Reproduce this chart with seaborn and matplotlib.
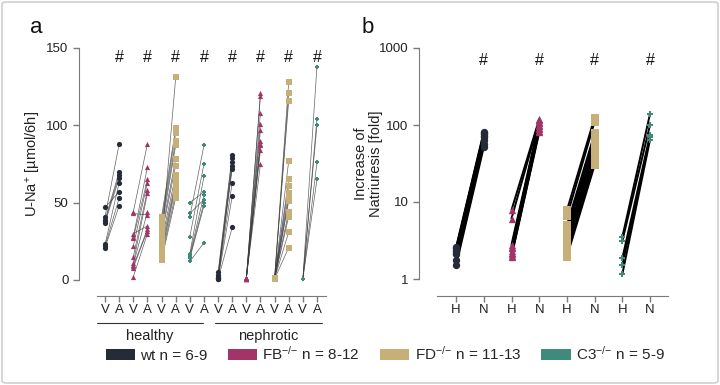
import numpy as np
import pandas as pd
import matplotlib
matplotlib.use("Agg")
import matplotlib.pyplot as plt
import seaborn as sns
from matplotlib.patches import Patch, FancyBboxPatch
import matplotlib.transforms as mtransforms

# ---------------- data ----------------
genotypes = ["wt", "FB", "FD", "C3"]
legend_labels = ["wt n = 6-9", "FB$^{{-}/{-}}$ n = 8-12", "FD$^{{-}/{-}}$ n = 11-13", "C3$^{{-}/{-}}$ n = 5-9"]
colors = ["#252b37", "#a23467", "#c6b077", "#3f8a7a"]
markers = ["o", "^", "s", "P"]

a_tick_labels = ["V", "A"] * 8
a_groups = ["healthy", "nephrotic"]
b_tick_labels = ["H", "N"] * 4

# Panel a: U-Na+ [umol/6h], vehicle (V) vs amiloride (A), paired per animal
healthy_V = {
    "wt": [47, 41, 39, 38, 37, 23, 22, 21],
    "FB": [44, 43, 30, 28, 27, 22, 15, 11, 10, 9, 8, 2],
    "FD": [41, 38, 36, 33, 31, 29, 24, 25, 22, 19, 17, 15, 13],
    "C3": [50, 43, 41, 28, 17, 16, 15, 14, 12],
}
healthy_A = {
    "wt": [57, 88, 70, 68, 66, 63, 53, 48],
    "FB": [88, 42, 35, 73, 65, 63, 58, 56, 44, 33, 32, 30],
    "FD": [98, 95, 90, 87, 78, 74, 131, 68, 64, 62, 60, 56, 53],
    "C3": [57, 52, 87, 75, 67, 55, 50, 48, 24],
}
nephrotic_V = {
    "wt": [5, 3, 2, 1.5, 1, 1, 0.5, 0.5],
    "FB": [1, 0.8, 1, 0.6, 1, 0.9, 0.7, 1, 0.8, 1],
    "FD": [1, 0.8, 1, 0.6, 1, 0.9, 0.7, 1, 0.8, 1, 0.9, 1, 0.7],
    "C3": [0.5, 0.5, 0.5, 0.5, 0.5],
}
nephrotic_A = {
    "wt": [81, 79, 76, 74, 72, 63, 54, 34],
    "FB": [121, 119, 108, 101, 97, 90, 88, 87, 84, 75],
    "FD": [128, 121, 116, 77, 65, 61, 56, 53, 51, 44, 41, 31, 21],
    "C3": [138, 104, 100, 76, 65],
}

# Panel b: increase of natriuresis [fold], healthy (H) vs nephrotic (N)
fold_H = {
    "wt": [2.6, 2.5, 2.4, 2.3, 2.2, 2.1, 1.75, 1.5],
    "FB": [7.9, 6.1, 2.8, 2.6, 2.5, 2.3, 2.2, 2.1, 2.0, 1.95],
    "FD": [7.8, 6.5, 5.0, 4.5, 4.0, 3.6, 3.3, 3.0, 2.7, 2.4, 2.1, 1.95],
    "C3": [3.5, 3.1, 1.85, 1.5, 1.15],
}
fold_N = {
    "wt": [82, 79, 76, 73, 69, 63, 56, 52],
    "FB": [119, 115, 110, 105, 100, 96, 92, 88, 84, 80],
    "FD": [125, 110, 78, 72, 66, 60, 55, 50, 45, 40, 35, 30],
    "C3": [139, 100, 74, 70, 64],
}

# ---------------- long-form tables ----------------
rows_a = []
for gi, g in enumerate(genotypes):
    for ci, (dV, dA) in enumerate([(healthy_V, healthy_A), (nephrotic_V, nephrotic_A)]):
        base = ci * 8 + gi * 2
        for k, (v, a) in enumerate(zip(dV[g], dA[g])):
            uid = f"{g}_{ci}_{k}"
            rows_a.append(dict(genotype=g, cond=ci, animal=uid, pos=base, value=v))
            rows_a.append(dict(genotype=g, cond=ci, animal=uid, pos=base + 1, value=a))
df_a = pd.DataFrame(rows_a)

rows_b = []
for gi, g in enumerate(genotypes):
    for k, (h, n) in enumerate(zip(fold_H[g], fold_N[g])):
        uid = f"{g}_{k}"
        rows_b.append(dict(genotype=g, animal=uid, pos=gi * 2, value=h))
        rows_b.append(dict(genotype=g, animal=uid, pos=gi * 2 + 1, value=n))
df_b = pd.DataFrame(rows_b)

# ---------------- figure ----------------
sns.set_style("ticks")
plt.rcParams["font.family"] = ["Liberation Sans", "DejaVu Sans"]
plt.rcParams["mathtext.fontset"] = "custom"
plt.rcParams["mathtext.rm"] = "Liberation Sans"
plt.rcParams["mathtext.it"] = "Liberation Sans"
plt.rcParams["axes.edgecolor"] = "#7a7a7a"
plt.rcParams["xtick.color"] = "#7a7a7a"
plt.rcParams["ytick.color"] = "#7a7a7a"
plt.rcParams["xtick.labelcolor"] = "#222222"
plt.rcParams["ytick.labelcolor"] = "#222222"

W, H = 720, 385
fig = plt.figure(figsize=(W / 100, H / 100), dpi=100)

def px_axes(x0, y0, x1, y1):
    return fig.add_axes([x0 / W, 1 - y1 / H, (x1 - x0) / W, (y1 - y0) / H])

ax_a = px_axes(97, 48, 326, 280)
ax_b = px_axes(437, 48, 668, 279)

palette = dict(zip(genotypes, colors))
mk = dict(zip(genotypes, markers))
size_a = {"wt": 14, "FB": 14, "FD": 16, "C3": 12}
size_b = {"wt": 28, "FB": 28, "FD": 40, "C3": 20}

# panel a
for g in genotypes:
    sub = df_a[df_a.genotype == g]
    sns.lineplot(data=sub, x="pos", y="value", units="animal", estimator=None,
                 color="#3c3c3c", lw=0.5, alpha=0.8, ax=ax_a, legend=False,
                 clip_on=False, zorder=2)
    sns.scatterplot(data=sub, x="pos", y="value", color=palette[g], marker=mk[g],
                    s=size_a[g], linewidth=0, ax=ax_a, legend=False, clip_on=False, zorder=3)

ax_a.set_xlim(-0.57, 15.64)
ax_a.set_ylim(0, 150)
ax_a.set_yticks([0, 50, 100, 150])
ax_a.set_xticks(range(16))
ax_a.set_xticklabels(a_tick_labels)
ax_a.set_xlabel("")
ax_a.set_ylabel("U-Na$^{+}$ [µmol/6h]", fontsize=10.5, color="#222222")
ax_a.yaxis.set_label_coords(-0.235, 0.5)
sns.despine(ax=ax_a, offset={"left": 13, "bottom": 11.5})
ax_a.tick_params(axis="both", labelsize=9.5, length=4, width=1)
ax_a.tick_params(axis="x", pad=2)

for i in range(4):
    ax_a.text(2 * i + 1, 144, "#", ha="center", va="center", fontsize=11.5, color="#111111")
    ax_a.text(8 + 2 * i + 1, 144, "#", ha="center", va="center", fontsize=11.5, color="#111111")

trans = mtransforms.blended_transform_factory(ax_a.transData, ax_a.transAxes)
for (x0, x1), lab in zip([(-0.57, 6.94), (7.78, 15.36)], a_groups):
    ax_a.plot([x0, x1], [-0.185, -0.185], transform=trans, color="#333333", lw=0.8, clip_on=False)
    ax_a.text((x0 + x1) / 2, -0.24, lab, transform=trans, ha="center", va="center",
              fontsize=10.5, color="#222222")

# panel b
for g in genotypes:
    sub = df_b[df_b.genotype == g]
    sns.lineplot(data=sub, x="pos", y="value", units="animal", estimator=None,
                 color="black", lw=1.4, ax=ax_b, legend=False, clip_on=False, zorder=2)
    sns.scatterplot(data=sub, x="pos", y="value", color=palette[g], marker=mk[g],
                    s=size_b[g], linewidth=0, ax=ax_b, legend=False, clip_on=False, zorder=3)

ax_b.set_yscale("log")
ax_b.set_ylim(1, 1000)
ax_b.set_yticks([1, 10, 100, 1000])
ax_b.set_yticklabels(["1", "10", "100", "1000"])
ax_b.yaxis.set_minor_locator(matplotlib.ticker.NullLocator())
ax_b.set_xlim(-0.69, 7.65)
ax_b.set_xticks(range(8))
ax_b.set_xticklabels(b_tick_labels)
ax_b.set_xlabel("")
ax_b.set_ylabel("Increase of\nNatriuresis [fold]", fontsize=10.5, color="#222222",
                linespacing=1.05)
ax_b.yaxis.set_label_coords(-0.235, 0.5)
sns.despine(ax=ax_b, offset={"left": 13, "bottom": 12})
ax_b.tick_params(axis="both", labelsize=9.5, length=4, width=1)
ax_b.tick_params(axis="x", pad=2)
for i in range(4):
    ax_b.text(2 * i + 1, 680, "#", ha="center", va="center", fontsize=11.5, color="#111111")

# panel letters
fig.text(30 / W, 1 - 33 / H, "a", fontsize=16, ha="left", va="baseline", color="#111111")
fig.text(362 / W, 1 - 33 / H, "b", fontsize=16, ha="left", va="baseline", color="#111111")

# legend
handles = [Patch(facecolor=c, edgecolor="none") for c in colors]
fig.legend(handles, legend_labels, loc="center", bbox_to_anchor=(0.535, 1 - 354 / H),
           ncol=4, frameon=False, fontsize=11, handlelength=1.95, handleheight=0.7,
           handletextpad=0.33, columnspacing=1.3)

# figure border
border = FancyBboxPatch((2 / W, 2 / H), 1 - 4 / W, 1 - 4 / H, transform=fig.transFigure,
                        boxstyle="round,pad=0,rounding_size=0.006", fill=False,
                        edgecolor="#cfcfcf", lw=1.2)
fig.patches.append(border)

fig.savefig("out.png", dpi=100)
